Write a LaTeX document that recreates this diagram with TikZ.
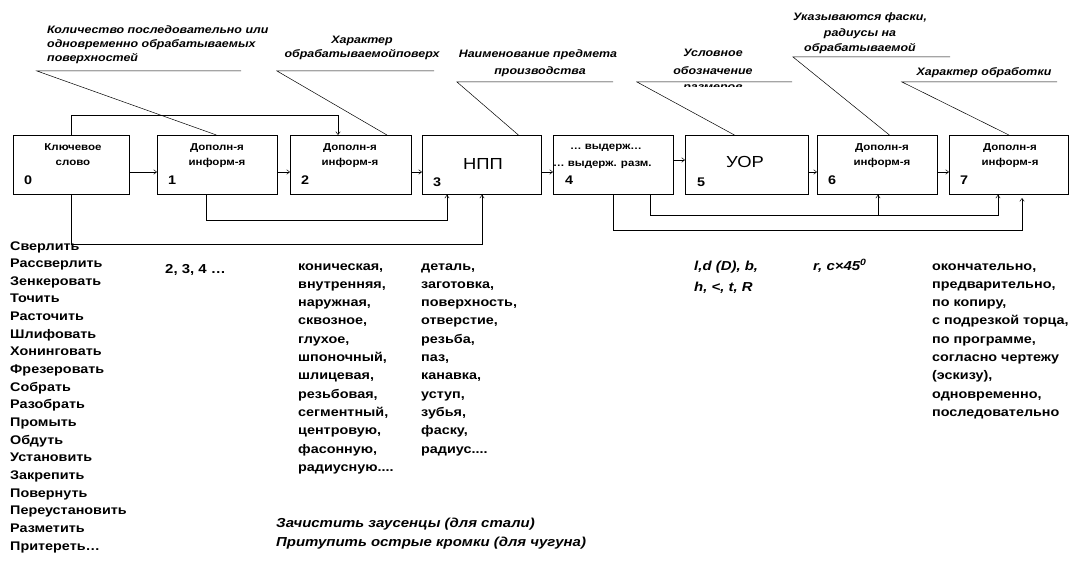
\documentclass[tikz,border=0pt]{standalone}
\usepackage{fontspec}
\newfontfamily\af{Liberation Sans}[FakeStretch=1.15]
\usetikzlibrary{arrows.meta,calc}
\newcommand\fourdots{....}
\begin{document}
\begin{tikzpicture}[x=1pt,y=-1pt,
  blk/.style={draw, line width=0.8pt, inner sep=0pt, minimum height=59pt, anchor=north west},
  ln/.style={line width=0.5pt},
  arr/.style={line width=0.5pt, -{Straight Barb[length=3pt,width=4.5pt]}},
  ann/.style={inner sep=0pt, anchor=base, font=\af\bfseries\itshape\fontsize{10.8}{13}\selectfont},
  btx/.style={inner sep=0pt, anchor=base, font=\af\bfseries\fontsize{10}{12}\selectfont},
  num/.style={inner sep=0pt, anchor=base west, font=\af\bfseries\fontsize{12.5}{14}\selectfont},
  big/.style={inner sep=0pt, anchor=base, font=\af\fontsize{16}{18}\selectfont},
  lst/.style={inner sep=0pt, anchor=base west, font=\af\bfseries\fontsize{12.5}{14}\selectfont},
  itl/.style={inner sep=0pt, anchor=base west, font=\af\bfseries\itshape\fontsize{13}{15}\selectfont},
]
\fill[white] (0,0) rectangle (1073,564);
\useasboundingbox (0,0) rectangle (1073,564);

% boxes
\node[blk, minimum width=116pt] (b0) at (13,135) {};
\node[blk, minimum width=120pt] (b1) at (157,135) {};
\node[blk, minimum width=121pt] (b2) at (290,135) {};
\node[blk, minimum width=119pt] (b3) at (422,135) {};
\node[blk, minimum width=120pt] (b4) at (553,135) {};
\node[blk, minimum width=123pt] (b5) at (685,135) {};
\node[blk, minimum width=120pt] (b6) at (817,135) {};
\node[blk, minimum width=119pt] (b7) at (949,135) {};

% box texts
\node[btx] (k0a) at (73,151) {Ключевое};
\node[btx] (k0b) at (73,166) {слово};
\node[btx] (k1a) at (217,151) {Дополн-я};
\node[btx] (k1b) at (217,166) {информ-я};
\node[btx] (k2a) at (350,151) {Дополн-я};
\node[btx] (k2b) at (350,166) {информ-я};
\node[big] (k3) at (483,170) {НПП};
\node[btx] (k4a) at (606,150) {… выдерж…};
\node[btx, anchor=base west] (k4b) at (553,167) {… выдерж. разм.};
\node[big] (k5) at (745,168) {УОР};
\node[btx] (k6a) at (882,151) {Дополн-я};
\node[btx] (k6b) at (882,166) {информ-я};
\node[btx] (k7a) at (1010,151) {Дополн-я};
\node[btx] (k7b) at (1010,166) {информ-я};

\node[num] (n0) at (24,185) {0};
\node[num] (n1) at (168,185) {1};
\node[num] (n2) at (301,185) {2};
\node[num] (n3) at (433,186) {3};
\node[num] (n4) at (565,185) {4};
\node[num] (n5) at (697,186) {5};
\node[num] (n6) at (828,185) {6};
\node[num] (n7) at (960,185) {7};

% horizontal arrows
\coordinate (h1) at (0,172);
\coordinate (h2) at (0,160);
\draw[arr] (b0.east |- h1) -- (b1.west |- h1);
\draw[arr] (b1.east |- h1) -- (b2.west |- h1);
\draw[arr] (b2.east |- h1) -- (b3.west |- h1);
\draw[arr] (b3.east |- h1) -- (b4.west |- h1);
\draw[arr] (b4.east |- h2) -- (b5.west |- h2);
\draw[arr] (b5.east |- h1) -- (b6.west |- h1);
\draw[arr] (b6.east |- h1) -- (b7.west |- h1);

% top connector 0 -> 2
\coordinate (cT) at (338,115);
\draw[arr] (b0.north) |- (cT) -- (cT |- b2.north);

% bottom connectors
\coordinate (p1) at (206,220);
\coordinate (p2) at (447,220);
\draw[arr] (p1 |- b1.south) -- (p1) -- (p2) -- (p2 |- b3.south);
\coordinate (q2) at (482,244);
\draw[arr] (b0.south) |- (q2) -- (q2 |- b3.south);
\coordinate (s1) at (650,215);
\coordinate (s2) at (998,215);
\coordinate (s3) at (878,215);
\draw[arr] (s1 |- b4.south) -- (s1) -- (s2) -- (s2 |- b7.south);
\draw[arr] (s3) -- (s3 |- b6.south);
\coordinate (t1) at (613,230);
\coordinate (t2) at (1022,230);
\coordinate (t3) at (1022,198);
\draw[arr] (t1 |- b4.south) -- (t1) -- (t2) -- (t3);

% annotations
\coordinate (a1) at (37,71);  \coordinate (a1e) at (241,71);
\coordinate (a2) at (277,71); \coordinate (a2e) at (434,71);
\coordinate (a3) at (457,82); \coordinate (a3e) at (613,82);
\coordinate (a4) at (637,82); \coordinate (a4e) at (792,82);
\coordinate (a5) at (793,57); \coordinate (a5e) at (950,57);
\coordinate (a6) at (902,82); \coordinate (a6e) at (1057,82);
\draw[ln] (a1e) -- (a1) -- ([xshift=-1pt]b1.north);
\draw[ln] (a2e) -- (a2) -- ([xshift=36pt]b2.north);
\draw[ln] (a3e) -- (a3) -- ([xshift=36.5pt]b3.north);
\draw[ln] (a4e) -- (a4) -- ([xshift=-12.5pt]b5.north);
\draw[ln] (a5e) -- (a5) -- ([xshift=12pt]b6.north);
\draw[ln] (a6e) -- (a6) -- (b7.north);

\node[ann, anchor=base west] (m1a) at (47,34) {Количество последовательно или};
\node[ann, anchor=base west] (m1b) at (47,48) {одновременно обрабатываемых};
\node[ann, anchor=base west] (m1c) at (47,62) {поверхностей};
\node[ann] (m2a) at (362,43.5) {Характер};
\node[ann] (m2b) at (362,58) {обрабатываемойповерх};
\node[ann] (m3a) at (538,58) {Наименование предмета};
\node[ann] (m3b) at (540,75) {производства};
\node[ann] (m4a) at (713,57) {Условное};
\node[ann] (m4b) at (713,75) {обозначение};
\begin{scope}
\clip (630,82.5) rectangle (800,86.5);
\node[ann] (m4c) at (713,91) {размеров};
\end{scope}
\node[ann] (m5a) at (860,21) {Указываются фаски,};
\node[ann] (m5b) at (860,37) {радиусы на};
\node[ann] (m5c) at (860,52) {обрабатываемой};
\node[ann] (m6) at (984,76) {Характер обработки};

% lists
\foreach \t [count=\i from 0] in {Сверлить, Рассверлить, Зенкеровать, Точить, Расточить, Шлифовать, Хонинговать, Фрезеровать, Собрать, Разобрать, Промыть, Обдуть, Установить, Закрепить, Повернуть, Переустановить, Разметить, Притереть…}
  \node[lst] (L\i) at (10,{250+17.65*\i}) {\t};
\node[lst, font=\af\bfseries\fontsize{13}{15}\selectfont] (c2) at (165,273) {2, 3, 4 …};
\foreach \t [count=\i from 0] in {{коническая,}, {внутренняя,}, {наружная,}, {сквозное,}, {глухое,}, {шпоночный,}, {шлицевая,}, {резьбовая,}, {сегментный,}, {центровую,}, {фасонную,}, {радиусную\fourdots}}
  \node[lst] (C\i) at (298,{270+18.3*\i}) {\t};
\foreach \t [count=\i from 0] in {{деталь,}, {заготовка,}, {поверхность,}, {отверстие,}, {резьба,}, {паз,}, {канавка,}, {уступ,}, {зубья,}, {фаску,}, {радиус\fourdots}}
  \node[lst] (D\i) at (421,{270+18.3*\i}) {\t};
\foreach \t [count=\i from 0] in {{окончательно,}, {предварительно,}, {по копиру,}, {с подрезкой торца,}, {по программе,}, {согласно чертежу}, {(эскизу),}, {одновременно,}, {последовательно}}
  \node[lst] (R\i) at (932,{270+18.3*\i}) {\t};

\node[itl] (s1t) at (694,270) {l,d (D), b,};
\node[itl] (s2t) at (694,291) {h, <, t, R};
\node[itl] (s3t) at (813,270) {r, c×45\textsuperscript{0}};
\node[itl] (z1) at (276,527) {Зачистить заусенцы (для стали)};
\node[itl] (z2) at (276,546) {Притупить острые кромки (для чугуна)};
\end{tikzpicture}
\end{document}
